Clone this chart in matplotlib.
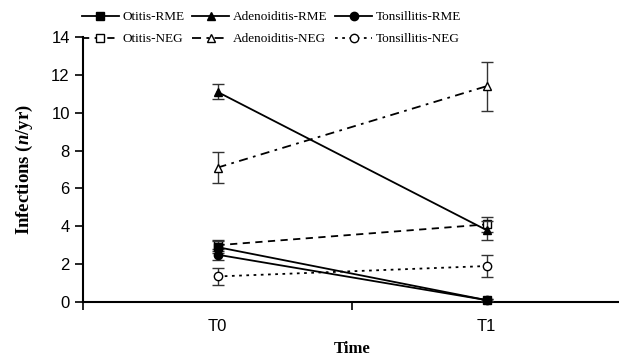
import numpy as np
import matplotlib.pyplot as plt
from matplotlib.lines import Line2D
from matplotlib.ticker import FixedLocator, NullFormatter

# data
times = ["T0", "T1"]
xpos = [0.5, 1.5]

otitis_rme = [2.9, 0.1]
otitis_rme_err = [0.3, 0.05]
adeno_rme = [11.1, 3.8]
adeno_rme_err = [0.4, 0.5]
tonsil_rme = [2.5, 0.1]
tonsil_rme_err = [0.3, 0.05]

otitis_neg = [3.0, 4.1]
otitis_neg_err = [0.3, 0.4]
adeno_neg = [7.1, 11.4]
adeno_neg_err = [0.8, 1.3]
tonsil_neg = [1.35, 1.9]
tonsil_neg_err = [0.45, 0.6]

serif = "Liberation Serif"
sans = "Liberation Sans"
plt.rcParams["mathtext.fontset"] = "custom"
plt.rcParams["mathtext.it"] = "Liberation Serif:italic:bold"
plt.rcParams["mathtext.rm"] = "Liberation Serif:bold"

fig = plt.figure(figsize=(6.19, 3.6), dpi=100)
ax = fig.add_axes([83 / 619, 1 - 302 / 360, 538 / 619, 265 / 360])

series = [
    ("Otitis-RME", otitis_rme, otitis_rme_err, "-", "s", "black", 3),
    ("Adenoiditis-RME", adeno_rme, adeno_rme_err, "-", "^", "black", 3),
    ("Tonsillitis-RME", tonsil_rme, tonsil_rme_err, "-", "o", "black", 3),
    ("Otitis-NEG", otitis_neg, otitis_neg_err, (0, (4, 3)), "s", "white", 2),
    ("Adenoiditis-NEG", adeno_neg, adeno_neg_err, (0, (5, 3, 1.5, 3)), "^", "white", 2),
    ("Tonsillitis-NEG", tonsil_neg, tonsil_neg_err, (0, (1.5, 2.5)), "o", "white", 2),
]

handles = {}
for name, vals, err, ls, mk, fc, z in series:
    ax.errorbar(xpos, vals, yerr=err, color="black", ls=ls, lw=1.3,
                marker=mk, ms=6, mfc=fc, mec="black", mew=1.0,
                ecolor="#333333", elinewidth=1.0, capsize=4, capthick=1.0,
                zorder=z, clip_on=False)
    handles[name] = Line2D([], [], color="black", ls=ls, lw=1.3, marker=mk,
                           ms=6, mfc=fc, mec="black", mew=1.0)

ax.set_xlim(0, 2)
ax.set_ylim(0, 14)
ax.set_yticks(np.arange(0, 15, 2))
ax.xaxis.set_major_locator(FixedLocator([0, 1, 2]))
ax.xaxis.set_major_formatter(NullFormatter())
ax.xaxis.set_minor_locator(FixedLocator(xpos))
ax.set_xticklabels(times, minor=True)
ax.tick_params(axis="x", which="minor", length=0, pad=12, labelsize=12)
ax.tick_params(axis="x", which="major", length=6, width=1.2, direction="out")
ax.tick_params(axis="y", length=6, width=1.2, direction="out", labelsize=12)
for lab in ax.get_xticklabels(minor=True) + ax.get_yticklabels():
    lab.set_fontfamily(sans)

for s in ["top", "right"]:
    ax.spines[s].set_visible(False)
ax.spines["left"].set_linewidth(1.5)
ax.spines["bottom"].set_linewidth(1.5)

ax.set_ylabel("Infections ($\\it{n}$/yr)", fontfamily=serif,
              fontweight="bold", fontsize=13.5, labelpad=12)
ax.set_xlabel("Time", fontfamily=serif, fontweight="bold", fontsize=12, labelpad=5)

# legend fills column by column, so order to get RME on row 1, NEG on row 2
order = ["Otitis-RME", "Otitis-NEG", "Adenoiditis-RME", "Adenoiditis-NEG",
         "Tonsillitis-RME", "Tonsillitis-NEG"]
fig.legend([handles[k] for k in order], order, ncol=3, frameon=False,
           loc="upper left", bbox_to_anchor=(82 / 619, 1 - 11 / 360),
           prop={"family": serif, "size": 9.5}, handlelength=2.8,
           columnspacing=0.6, handletextpad=0.25, labelspacing=0.74,
           borderaxespad=0, borderpad=0)

fig.savefig("out.png", dpi=100)
